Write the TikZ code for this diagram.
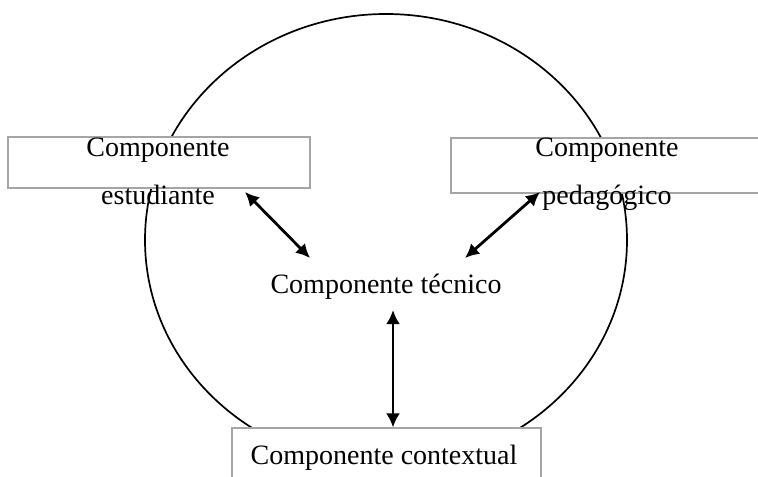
\documentclass[tikz,border=0pt]{standalone}
\usepackage{fontspec}
\setmainfont{Liberation Serif}
\usetikzlibrary{arrows.meta,positioning}
\definecolor{boxgray}{RGB}{165,165,165}

\begin{document}
\begin{tikzpicture}[
    x=0.5pt,y=-0.5pt,
    comp/.style={align=center,inner sep=0pt,font=\fontsize{14}{24}\selectfont},
    frame/.style={rectangle,draw=boxgray,line width=0.55pt,fill=white,inner sep=0pt},
    arrow/.style={{Latex[length=7pt,width=7pt]}-{Latex[length=7pt,width=7pt]},line width=1.4pt}
  ]
    \useasboundingbox (0,0) rectangle (758,476);
    % outer circle
    \draw[line width=0.85pt] (386,240) ellipse [x radius=241,y radius=226];
    % boxes
    \node[frame,minimum width=151pt,minimum height=25.5pt] (estbox) at (159,162.5) {};
    \node[frame,minimum width=157pt,minimum height=27.5pt] (pedbox) at (608,165.5) {};
    \node[frame,minimum width=154.5pt,minimum height=30pt] (ctxbox) at (386.5,458) {};
    % labels
    \node[comp] (est) at (158,171) {Componente\\estudiante};
    \node[comp] (ped) at (607,174) {Componente\\pedagógico};
    \node[comp] (tec) at (386,287) {Componente técnico};
    \node[comp] (ctx) at (384,458) {Componente contextual};
    % arrow ends
    \coordinate (estend) at (245,192);
    \coordinate (tecleft) at (310,258);
    \coordinate (pedend) at (540,192);
    \coordinate (tecright) at (465,258);
    \coordinate (tecfoot) at (393,310);
    \draw[arrow] (estend) -- (tecleft);
    \draw[arrow] (pedend) -- (tecright);
    \draw[arrow] (tecfoot) -- (tecfoot |- ctxbox.north);
  \end{tikzpicture}
\end{document}
